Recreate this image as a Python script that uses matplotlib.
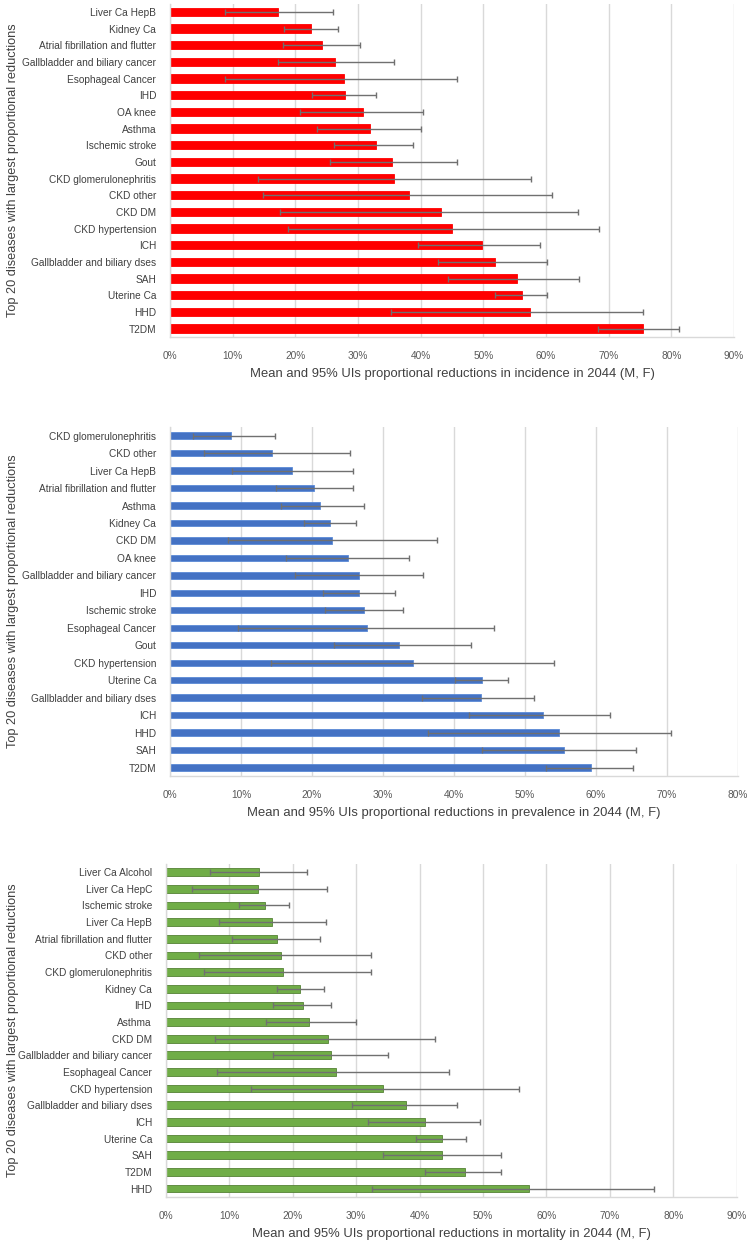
import numpy as np
import matplotlib.pyplot as plt
from matplotlib.ticker import FuncFormatter

plt.rcParams['font.family'] = ['Liberation Sans', 'DejaVu Sans']

# ---- incidence (top to bottom as shown) ----
inc_names = ['Liver Ca HepB', 'Kidney Ca', 'Atrial fibrillation and flutter',
             'Gallbladder and biliary cancer', 'Esophageal Cancer', 'IHD', 'OA knee',
             'Asthma', 'Ischemic stroke', 'Gout', 'CKD glomerulonephritis', 'CKD other',
             'CKD DM', 'CKD hypertension', 'ICH', 'Gallbladder and biliary dses', 'SAH',
             'Uterine Ca', 'HHD', 'T2DM']
inc_mean = [17.2, 22.5, 24.3, 26.4, 27.7, 28.0, 30.8, 31.9, 32.8, 35.4, 35.8, 38.2,
            43.2, 45.0, 49.8, 51.8, 55.3, 56.1, 57.4, 75.4]
inc_low = [8.8, 18.2, 18.1, 17.2, 8.8, 22.6, 20.8, 23.4, 26.2, 25.6, 14.1, 14.9,
           17.5, 18.9, 39.6, 42.7, 44.3, 51.9, 35.2, 68.3]
inc_high = [26.0, 26.8, 30.3, 35.8, 45.8, 32.9, 40.3, 40.0, 38.8, 45.8, 57.6, 60.9,
            65.1, 68.4, 59.0, 60.1, 65.3, 60.1, 75.4, 81.2]

# ---- prevalence ----
prev_names = ['CKD glomerulonephritis', 'CKD other', 'Liver Ca HepB',
              'Atrial fibrillation and flutter', 'Asthma', 'Kidney Ca', 'CKD DM', 'OA knee',
              'Gallbladder and biliary cancer', 'IHD', 'Ischemic stroke', 'Esophageal Cancer',
              'Gout', 'CKD hypertension', 'Uterine Ca', 'Gallbladder and biliary dses',
              'ICH', 'HHD', 'SAH', 'T2DM']
prev_mean = [8.6, 14.4, 17.2, 20.3, 21.2, 22.6, 22.8, 25.1, 26.6, 26.6, 27.4, 27.7,
             32.2, 34.3, 43.9, 43.8, 52.5, 54.8, 55.5, 59.3]
prev_low = [3.3, 4.8, 8.8, 15.0, 15.6, 18.9, 8.1, 16.3, 17.6, 21.5, 21.9, 9.6,
            23.1, 14.2, 40.1, 35.5, 42.1, 36.3, 44.0, 53.0]
prev_high = [14.8, 25.3, 25.8, 25.8, 27.4, 26.2, 37.6, 33.7, 35.6, 31.7, 32.8, 45.6,
             42.4, 54.1, 47.6, 51.3, 62.0, 70.6, 65.6, 65.2]

# ---- mortality ----
mort_names = ['Liver Ca Alcohol', 'Liver Ca HepC', 'Ischemic stroke', 'Liver Ca HepB',
              'Atrial fibrillation and flutter', 'CKD other', 'CKD glomerulonephritis',
              'Kidney Ca', 'IHD', 'Asthma', 'CKD DM', 'Gallbladder and biliary cancer',
              'Esophageal Cancer', 'CKD hypertension', 'Gallbladder and biliary dses',
              'ICH', 'Uterine Ca', 'SAH', 'T2DM', 'HHD']
mort_mean = [14.6, 14.5, 15.6, 16.7, 17.5, 18.2, 18.4, 21.2, 21.6, 22.6, 25.5, 26.0,
             26.8, 34.3, 37.8, 40.8, 43.6, 43.6, 47.1, 57.2]
mort_low = [6.9, 4.1, 11.5, 8.4, 10.4, 5.2, 6.0, 17.5, 16.8, 15.7, 7.7, 16.9,
            8.1, 13.4, 29.4, 31.8, 39.5, 34.2, 40.8, 32.5]
mort_high = [22.2, 25.4, 19.4, 25.2, 24.3, 32.3, 32.3, 24.9, 26.1, 29.9, 42.5, 35.0,
             44.6, 55.6, 45.9, 49.5, 47.3, 52.8, 52.8, 76.9]

panels = [
    (inc_names, inc_mean, inc_low, inc_high, '#FF0000', '#FF0000', 0.5, 90,
     'Mean and 95% UIs proportional reductions in incidence in 2044 (M, F)',
     [0.2267, 0.7285, 0.752, 0.2686]),
    (prev_names, prev_mean, prev_low, prev_high, '#4472C4', '#5B8AD6', 0.36, 80,
     'Mean and 95% UIs proportional reductions in prevalence in 2044 (M, F)',
     [0.2267, 0.3745, 0.757, 0.2815]),
    (mort_names, mort_mean, mort_low, mort_high, '#70AD47', '#548235', 0.46, 90,
     'Mean and 95% UIs proportional reductions in mortality in 2044 (M, F)',
     [0.2213, 0.0355, 0.761, 0.2685]),
]

fig = plt.figure(figsize=(7.5, 12.41), dpi=100)

for names, mean, low, high, col, edge, bh, xmax, xlab, pos in panels:
    ax = fig.add_axes(pos)
    mean = np.array(mean)
    y = np.arange(len(names))
    ax.barh(y, mean, height=bh, color=col, edgecolor=edge, linewidth=0.6, zorder=2)
    err = [mean - np.array(low), np.array(high) - mean]
    ax.errorbar(mean, y, xerr=err, fmt='none', ecolor='#707070', elinewidth=1.0,
                capsize=2.2, capthick=1.0, zorder=3)
    ax.set_yticks(y)
    ax.set_yticklabels(names, fontsize=7.3, color='#404040')
    ax.set_ylim(len(names) - 0.5, -0.5)
    ax.set_xlim(0, xmax)
    ax.set_xticks(np.arange(0, xmax + 1, 10))
    ax.xaxis.set_major_formatter(FuncFormatter(lambda v, p: '%d%%' % round(v)))
    ax.tick_params(axis='x', labelsize=7.3, colors='#595959', length=0, pad=10)
    ax.tick_params(axis='y', length=0, pad=10)
    ax.grid(axis='x', color='#D9D9D9', linewidth=1.0, zorder=0)
    ax.set_axisbelow(True)
    for s in ['top', 'right']:
        ax.spines[s].set_visible(False)
    for s in ['left', 'bottom']:
        ax.spines[s].set_color('#D9D9D9')
        ax.spines[s].set_linewidth(1.0)
    ax.set_xlabel(xlab, fontsize=9.4, color='#404040', labelpad=5)
    ax.set_ylabel('Top 20 diseases with largest proportional reductions', fontsize=9.2,
                  color='#404040')
    ax.yaxis.set_label_coords(-(pos[0] * 750 - 19) / (pos[2] * 750), 0.5)

fig.savefig('out.png', dpi=100, facecolor='white')
